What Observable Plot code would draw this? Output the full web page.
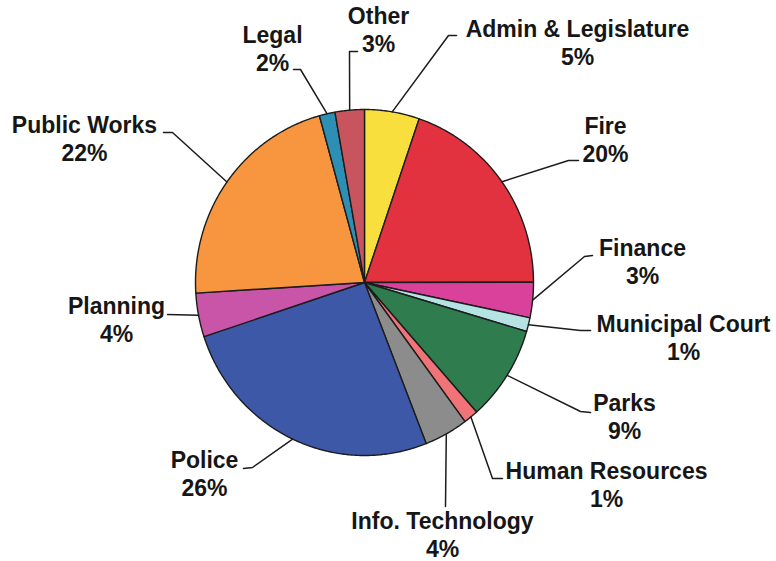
<!DOCTYPE html>
<html>
<head>
<meta charset="utf-8">
<script src="https://cdn.jsdelivr.net/npm/d3@7"></script>
<script src="https://cdn.jsdelivr.net/npm/@observablehq/plot@0.6"></script>
<style>
  html, body { margin: 0; padding: 0; background: #ffffff; }
  #chart svg { display: block; }
</style>
</head>
<body>
<div id="chart"></div>
<script>
// ---- Data ----
const categories = ["Admin & Legislature", "Fire", "Finance", "Municipal Court", "Parks",
  "Human Resources", "Info. Technology", "Police", "Planning", "Public Works", "Legal", "Other"];
const shares = [5.25, 19.75, 3.3, 1.3, 8.9, 1.4, 4.2, 25.9, 4.1, 21.7, 1.5, 2.8];
const pctLabels = ["5%", "20%", "3%", "1%", "9%", "1%", "4%", "26%", "4%", "22%", "2%", "3%"];
const colors = ["#f8df3e", "#e3323f", "#d9419a", "#b5e3e3", "#2f7d4e", "#f07378",
  "#8c8c8c", "#3e58a8", "#c955a8", "#f7963f", "#2e8fb5", "#c8545e"];

// ---- Layout (label placement, in pixel units of the chart) ----
const W = 776, H = 561;
const CX = 364, CY = 282, RX = 169, RY = 173;
const labelX = [577, 605, 642, 683, 624, 606, 442, 204, 116, 84, 272, 378];
const labelY = [36, 133, 255, 331.5, 410, 478.5, 528.5, 467, 313.5, 132.5, 42, 23.5];
const lineGap = 28.3;
const leaderStart = [[456, 35], [578, 160], [592, 255], [590, 330], [590, 412], [502, 478],
  [445, 506], [243, 468], [167, 314], [163, 132], [293, 69], [357, 51]];
const leaderElbow = [[448, 35], [568, 160], [584, 256], [580, 330], [580, 411], [492, 478],
  null, [252, 467], null, [172, 132], [300, 69], [349, 51]];

// ---- Build slices ----
const total = d3.sum(shares);
let acc = 0;
const slices = categories.map((name, i) => {
  const a0 = acc / total * 2 * Math.PI;
  acc += shares[i];
  const a1 = acc / total * 2 * Math.PI;
  return {name, a0, a1, color: colors[i]};
});
const px = a => CX + RX * Math.sin(a);
const py = a => CY - RY * Math.cos(a);

const polyPts = [];
for (const s of slices) {
  polyPts.push({name: s.name, color: s.color, x: CX, y: CY});
  const n = Math.max(2, Math.ceil((s.a1 - s.a0) / (Math.PI / 360)));
  for (let k = 0; k <= n; k++) {
    const a = s.a0 + (s.a1 - s.a0) * k / n;
    polyPts.push({name: s.name, color: s.color, x: px(a), y: py(a)});
  }
  polyPts.push({name: s.name, color: s.color, x: CX, y: CY});
}

const leaderPts = [];
slices.forEach((s, i) => {
  const mid = (s.a0 + s.a1) / 2;
  leaderPts.push({name: s.name, x: leaderStart[i][0], y: leaderStart[i][1]});
  if (leaderElbow[i]) leaderPts.push({name: s.name, x: leaderElbow[i][0], y: leaderElbow[i][1]});
  leaderPts.push({name: s.name, x: px(mid), y: py(mid)});
});

const labels = categories.map((name, i) => ({name, pct: pctLabels[i], x: labelX[i], y: labelY[i]}));

const textStyle = {
  textAnchor: "middle",
  lineAnchor: "bottom",
  fontSize: 23,
  fontWeight: "bold",
  fill: "#161616"
};

const chart = Plot.plot({
  width: W,
  height: H,
  marginTop: 0, marginRight: 0, marginBottom: 0, marginLeft: 0,
  x: {domain: [0, W], range: [0, W], axis: null},
  y: {domain: [0, H], range: [0, H], axis: null},
  color: {type: "identity"},
  style: {fontFamily: "'Liberation Sans', Arial, sans-serif", background: "#ffffff"},
  marks: [
    Plot.line(polyPts, {x: "x", y: "y", z: "name", fill: "color", stroke: "#1c1c1c",
      strokeWidth: 1.4, strokeLinejoin: "round", curve: "linear"}),
    Plot.line(leaderPts, {x: "x", y: "y", z: "name", stroke: "#1c1c1c", strokeWidth: 1.5}),
    Plot.text(labels, {x: "x", y: "y", text: "name", ...textStyle}),
    Plot.text(labels, {x: "x", y: "y", text: "pct", dy: lineGap, ...textStyle})
  ]
});
document.getElementById("chart").appendChild(chart);
</script>
</body>
</html>
